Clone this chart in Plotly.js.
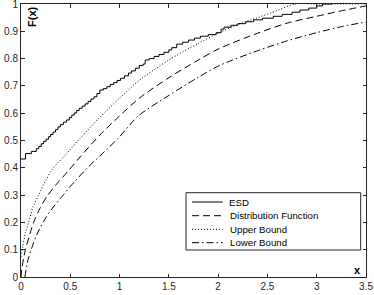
<!DOCTYPE html>
<html>
<head>
<meta charset="utf-8">
<script src="https://cdn.plot.ly/plotly-3.0.1.min.js"></script>
<style>html,body{margin:0;padding:0;background:#fff;}#chart{width:374px;height:295px;}</style>
</head>
<body>
<div id="chart"></div>
<script>
// ESD (empirical step distribution): step locations and levels
var esdX = [0, 0.045, 0.105, 0.155, 0.18, 0.205, 0.23, 0.255, 0.28, 0.30, 0.325, 0.35, 0.375, 0.40, 0.43, 0.46, 0.49, 0.515, 0.54, 0.565, 0.59, 0.62, 0.65, 0.68, 0.71, 0.74, 0.77, 0.80, 0.835, 0.87, 0.905, 0.94, 0.975, 1.01, 1.05, 1.09, 1.12, 1.16, 1.2, 1.24, 1.26, 1.3, 1.35, 1.4, 1.45, 1.5, 1.53, 1.58, 1.64, 1.7, 1.76, 1.82, 1.9, 1.98, 2.03, 2.06, 2.13, 2.2, 2.28, 2.36, 2.45, 2.56, 2.65, 2.75, 2.83, 2.92, 3.0, 3.06, 3.16];
var esdY = [0.432, 0.452, 0.46, 0.47, 0.478, 0.488, 0.497, 0.505, 0.514, 0.522, 0.531, 0.54, 0.55, 0.558, 0.567, 0.575, 0.584, 0.593, 0.601, 0.61, 0.618, 0.626, 0.634, 0.643, 0.652, 0.66, 0.672, 0.685, 0.69, 0.697, 0.705, 0.712, 0.72, 0.728, 0.737, 0.747, 0.755, 0.765, 0.775, 0.78, 0.795, 0.8, 0.808, 0.815, 0.823, 0.832, 0.84, 0.853, 0.86, 0.868, 0.875, 0.882, 0.888, 0.895, 0.908, 0.915, 0.922, 0.928, 0.935, 0.942, 0.948, 0.955, 0.962, 0.97, 0.978, 0.985, 0.993, 1.0, 1.0];

// Distribution function
var distX = [0, 0.01, 0.025, 0.044, 0.08, 0.128, 0.19, 0.263, 0.36, 0.483, 0.6, 0.8, 1.0, 1.2, 1.5, 1.8, 2.0, 2.4, 2.7, 3.0, 3.25, 3.5];
var distY = [0, 0.035, 0.065, 0.1, 0.145, 0.2, 0.25, 0.295, 0.34, 0.39, 0.44, 0.52, 0.59, 0.655, 0.73, 0.795, 0.835, 0.893, 0.93, 0.955, 0.975, 0.993];

// Upper bound
var upX = [0, 0.02, 0.045, 0.078, 0.12, 0.179, 0.25, 0.33, 0.45, 0.6, 0.8, 1.0, 1.2, 1.5, 1.8, 2.0, 2.2, 2.4, 2.6, 2.78, 3.0, 3.5];
var upY = [0.074, 0.115, 0.162, 0.2, 0.255, 0.3, 0.354, 0.4, 0.447, 0.508, 0.585, 0.655, 0.72, 0.795, 0.856, 0.893, 0.925, 0.95, 0.976, 1.0, 1.0, 1.0];

// Lower bound
var loX = [0.04, 0.06, 0.08, 0.111, 0.16, 0.229, 0.3, 0.432, 0.55, 0.702, 0.85, 0.99, 1.19, 1.5, 1.8, 2.015, 2.41, 2.7, 3.0, 3.25, 3.5];
var loY = [0, 0.045, 0.075, 0.108, 0.155, 0.203, 0.243, 0.302, 0.352, 0.41, 0.46, 0.51, 0.59, 0.665, 0.732, 0.775, 0.83, 0.865, 0.895, 0.917, 0.934];

var xTicks = [0, 0.5, 1, 1.5, 2, 2.5, 3, 3.5];
var xTickText = ['0', '0.5', '1', '1.5', '2', '2.5', '3', '3.5'];
var yTicks = [0, 0.1, 0.2, 0.3, 0.4, 0.5, 0.6, 0.7, 0.8, 0.9, 1];
var yTickText = ['0', '0.1', '0.2', '0.3', '0.4', '0.5', '0.6', '0.7', '0.8', '0.9', '1'];
var seriesNames = ['ESD', 'Distribution Function', 'Upper Bound', 'Lower Bound'];

var FONT = '"Liberation Sans", Arial, Helvetica, sans-serif';
var INK = '#262626';
var DASH = '7px,4px', DOT = '1px,2px', DASHDOT = '7px,3px,1.5px,3px';

var traces = [
  {x: esdX, y: esdY, mode: 'lines', name: seriesNames[0], line: {color: '#000', width: 1, shape: 'hv'}, showlegend: false},
  {x: distX, y: distY, mode: 'lines', name: seriesNames[1], line: {color: '#000', width: 1, dash: DASH, shape: 'spline', smoothing: 0.8}, showlegend: false},
  {x: upX, y: upY, mode: 'lines', name: seriesNames[2], line: {color: '#000', width: 1, dash: DOT, shape: 'spline', smoothing: 0.8}, showlegend: false},
  {x: loX, y: loY, mode: 'lines', name: seriesNames[3], line: {color: '#000', width: 1, dash: DASHDOT, shape: 'spline', smoothing: 0.8}, showlegend: false}
];

// custom legend (matches the compact MATLAB legend)
var L = 21, T = 4, PW = 345, PH = 273;
function px(v) { return (v - L) / PW; }
function py(v) { return (T + PH - v) / PH; }
var rowY = [202, 215.7, 229.3, 242.7];
var dashes = ['solid', DASH, DOT, DASHDOT];
var shapes = [{type: 'rect', xref: 'paper', yref: 'paper', x0: px(186), x1: px(360.7), y0: py(250), y1: py(192.7), line: {color: INK, width: 1}, fillcolor: '#fff', layer: 'above'}];
var annotations = [];
for (var i = 0; i < seriesNames.length; i++) {
  shapes.push({type: 'line', xref: 'paper', yref: 'paper', x0: px(192), x1: px(222.7), y0: py(rowY[i]), y1: py(rowY[i]), line: {color: '#000', width: 1, dash: dashes[i]}, layer: 'above'});
  annotations.push({xref: 'paper', yref: 'paper', x: px(227.5), y: py(rowY[i]), xanchor: 'left', yanchor: 'middle', text: seriesNames[i], showarrow: false, font: {family: FONT, size: 9.7, color: '#000'}});
}
annotations.push({xref: 'paper', yref: 'paper', x: px(32.5), y: py(16.5), xanchor: 'center', yanchor: 'middle', text: '<b>F(x)</b>', textangle: -90, showarrow: false, font: {family: FONT, size: 11, color: '#000'}});
annotations.push({xref: 'paper', yref: 'paper', x: px(357), y: py(270), xanchor: 'center', yanchor: 'middle', text: '<b>x</b>', showarrow: false, font: {family: FONT, size: 11, color: '#000'}});

var axisCommon = {
  showgrid: false, zeroline: false, showline: true, linecolor: INK, linewidth: 1,
  mirror: 'ticks', ticks: 'inside', ticklen: 3.5, tickwidth: 1, tickcolor: INK,
  tickfont: {family: FONT, size: 10, color: INK}, tickmode: 'array', fixedrange: true,
  ticklabeloverflow: 'allow'
};

var layout = {
  width: 374, height: 295,
  margin: {l: L, r: 374 - L - PW, t: T, b: 295 - T - PH, pad: 0},
  paper_bgcolor: '#fff', plot_bgcolor: '#fff',
  showlegend: false,
  xaxis: Object.assign({}, axisCommon, {range: [0, 3.5], tickvals: xTicks, ticktext: xTickText}),
  yaxis: Object.assign({}, axisCommon, {range: [0, 1], tickvals: yTicks, ticktext: yTickText}),
  shapes: shapes,
  annotations: annotations
};

Plotly.newPlot('chart', traces, layout, {staticPlot: true, displayModeBar: false});
</script>
</body>
</html>
